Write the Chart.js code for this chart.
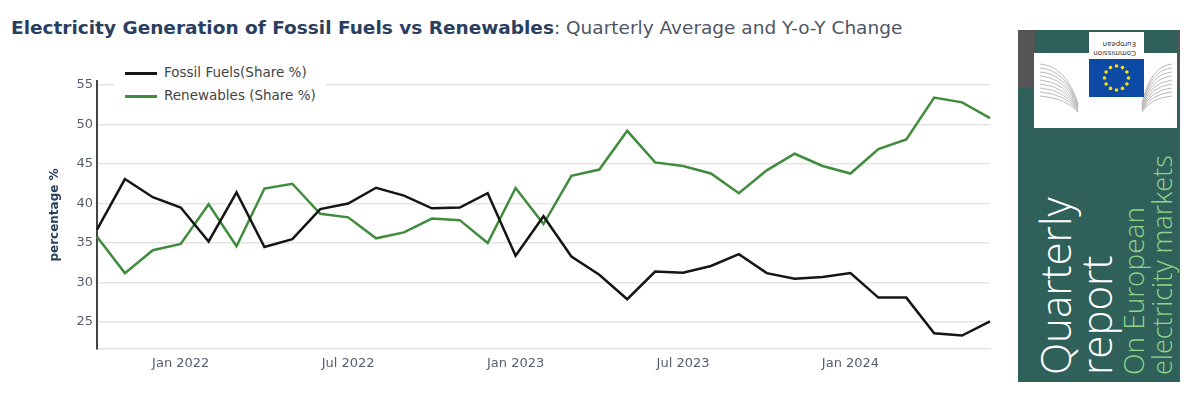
<!DOCTYPE html>
<html>
<head>
<meta charset="utf-8">
<script src="https://cdn.jsdelivr.net/npm/chart.js@4.4.1/dist/chart.umd.min.js"></script>
<style>
  html, body { margin: 0; padding: 0; background: #fff; }
  #wrap { position: relative; width: 1200px; height: 398px; overflow: hidden; font-family: "DejaVu Sans", Verdana, sans-serif; }
  #title { position: absolute; left: 11px; top: 19px; font-size: 18.5px; line-height: 1; color: #4d5566; white-space: nowrap; }
  #title b { color: #2a3f5f; }
  #chartBox { position: absolute; left: 0; top: 0; width: 1000px; height: 398px; }
  #legend { position: absolute; left: 114px; top: 61px; width: 212px; height: 45px; background: #fff; }
  .item { position: absolute; left: 11px; height: 20px; font-size: 13.5px; color: #444; white-space: nowrap; }
  .item i { position: absolute; left: 0; top: 9px; width: 32px; height: 3px; }
  .item span { position: absolute; left: 39px; top: 1px; }
  #panel { position: absolute; left: 1018px; top: 30px; width: 162px; height: 352px; background: #2f605a; overflow: hidden; }
  .rot { position: absolute; transform-origin: 0 0; transform: rotate(-90deg); white-space: nowrap; line-height: 1; font-family: "Open Sans", "Noto Sans", sans-serif; font-weight: 300; }
</style>
</head>
<body>
<div id="wrap">
  <div id="title"><b>Electricity Generation of Fossil Fuels vs Renewables</b>: Quarterly Average and Y-o-Y Change</div>
  <div id="chartBox"><canvas id="chart" width="1000" height="398"></canvas></div>
  <div id="legend"></div>
  <div id="panel">
    <svg id="logo" width="162" height="352" style="position:absolute;left:0;top:0"></svg>
    <div class="rot" style="left:16px;top:345px;font-size:42px;color:#fff;">Quarterly</div>
    <div class="rot" style="left:57px;top:345px;font-size:42px;color:#fff;">report</div>
    <div class="rot" style="left:101px;top:345px;font-size:28px;color:#8ed48a;">On European</div>
    <div class="rot" style="left:130px;top:345px;font-size:27px;color:#8ed48a;">electricity markets</div>
  </div>
</div>
<script>
// ---- Data (monthly points) ----
const months = [
  "Oct 2021", "Nov 2021", "Dec 2021",
  "Jan 2022", "Feb 2022", "Mar 2022", "Apr 2022", "May 2022", "Jun 2022",
  "Jul 2022", "Aug 2022", "Sep 2022", "Oct 2022", "Nov 2022", "Dec 2022",
  "Jan 2023", "Feb 2023", "Mar 2023", "Apr 2023", "May 2023", "Jun 2023",
  "Jul 2023", "Aug 2023", "Sep 2023", "Oct 2023", "Nov 2023", "Dec 2023",
  "Jan 2024", "Feb 2024", "Mar 2024", "Apr 2024", "May 2024", "Jun 2024"
];
const fossilShare = [
  36.7, 43.1, 40.8, 39.5, 35.2, 41.4, 34.5, 35.5, 39.3, 40.0, 42.0,
  41.0, 39.4, 39.5, 41.3, 33.4, 38.4, 33.3, 31.0, 27.9, 31.4, 31.25,
  32.1, 33.6, 31.2, 30.5, 30.7, 31.2, 28.1, 28.1, 23.6, 23.3, 25.1
];
const renewableShare = [
  35.8, 31.2, 34.1, 34.9, 39.9, 34.6, 41.9, 42.5, 38.7, 38.25, 35.6,
  36.35, 38.1, 37.9, 35.0, 41.96, 37.4, 43.5, 44.3, 49.2, 45.2, 44.75,
  43.8, 41.3, 44.2, 46.3, 44.75, 43.8, 46.9, 48.1, 53.4, 52.8, 50.8
];
const xTickLabels = ["Jan 2022", "Jul 2022", "Jan 2023", "Jul 2023", "Jan 2024"];
const yTicks = [25, 30, 35, 40, 45, 50, 55];

const seriesNames = ["Fossil Fuels(Share %)", "Renewables (Share %)"];
const seriesColors = ["#151515", "#3f8d3c"];

const tickFont = { family: "DejaVu Sans", size: 13 };

const chart = new Chart(document.getElementById("chart"), {
  type: "line",
  data: {
    labels: months,
    datasets: [
      { label: seriesNames[0], data: fossilShare, borderColor: seriesColors[0], borderWidth: 2.5 },
      { label: seriesNames[1], data: renewableShare, borderColor: seriesColors[1], borderWidth: 2.5 }
    ]
  },
  options: {
    responsive: false,
    animation: false,
    layout: { padding: { top: 81, right: 10, left: 0, bottom: 0 } },
    elements: { point: { radius: 0 }, line: { tension: 0 } },
    plugins: { legend: { display: false }, tooltip: { enabled: false } },
    scales: {
      x: {
        offset: false,
        grid: { display: false, drawTicks: false },
        border: { display: true, color: "#e3e3e3", width: 1.5 },
        afterFit: s => { s.height = 49; },
        ticks: {
          autoSkip: false,
          maxRotation: 0,
          padding: 7,
          color: "#555e6e",
          font: tickFont,
          callback: function (v) {
            const lab = this.getLabelForValue(v);
            return xTickLabels.includes(lab) ? lab : "";
          }
        }
      },
      y: {
        min: 21.6,
        max: 55.5,
        afterFit: s => { s.width = 97; },
        afterBuildTicks: s => { s.ticks = yTicks.map(v => ({ value: v })); },
        grid: { color: "#e4e4e4", lineWidth: 1.5, drawTicks: false },
        border: { color: "#444", width: 2 },
        ticks: { padding: 4, color: "#555e6e", font: tickFont },
        title: {
          display: true,
          text: "percentage %",
          color: "#2a3f5f",
          font: { family: "DejaVu Sans", size: 12, weight: "bold" },
          padding: { top: 48, bottom: 0 }
        }
      }
    }
  }
});

// ---- HTML legend built from the datasets ----
const legend = document.getElementById("legend");
chart.data.datasets.forEach((ds, i) => {
  const el = document.createElement("div");
  el.className = "item";
  el.style.top = (2 + i * 23) + "px";
  el.innerHTML = `<i style="background:${ds.borderColor}"></i><span>${ds.label}</span>`;
  legend.appendChild(el);
});

// ---- Report cover decoration (logo) ----
const svg = document.getElementById("logo");
const NS = "http://www.w3.org/2000/svg";
const add = (tag, attrs) => {
  const e = document.createElementNS(NS, tag);
  for (const k in attrs) e.setAttribute(k, attrs[k]);
  svg.appendChild(e);
  return e;
};
add("rect", { x: 0, y: 0, width: 17, height: 58, fill: "#555" });
add("rect", { x: 159, y: 0, width: 3, height: 58, fill: "#555" });
add("rect", { x: 16, y: 23, width: 143, height: 75, fill: "#fff" });
for (let k = 0; k < 9; k++) {
  const y0 = 34 + k * 4;
  add("path", { d: `M22 ${y0} Q48 ${y0 + 2} 60 ${y0 + 40 - k * 3}`, stroke: "#bbb", "stroke-width": 1, fill: "none" });
  add("path", { d: `M154 ${y0} Q132 ${y0 + 2} 124 ${y0 + 40 - k * 3}`, stroke: "#bbb", "stroke-width": 1, fill: "none" });
}
add("rect", { x: 71, y: 2, width: 55, height: 28, fill: "#fff" });
add("rect", { x: 71, y: 29, width: 55, height: 38, fill: "#0d4aa5" });
const lab = add("text", { x: 0, y: 0, "font-size": 7, fill: "#333", "font-family": "DejaVu Sans", transform: "translate(118 12) rotate(180)" });
lab.textContent = "European";
const lab2 = add("text", { x: 0, y: 0, "font-size": 7, fill: "#333", "font-family": "DejaVu Sans", transform: "translate(118 21) rotate(180)" });
lab2.textContent = "Commission";
for (let s = 0; s < 12; s++) {
  const a = s * Math.PI / 6;
  add("circle", { cx: 98.5 + 12 * Math.cos(a), cy: 48 + 12 * Math.sin(a), r: 1.8, fill: "#ffdd00" });
}
</script>
</body>
</html>
